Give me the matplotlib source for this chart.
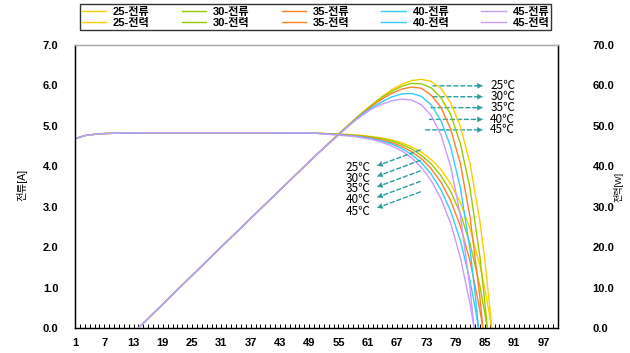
import matplotlib
matplotlib.use('Agg')
import matplotlib.pyplot as plt
from matplotlib.ticker import FixedLocator, FuncFormatter

plt.rcParams['font.family'] = ['Liberation Sans', 'Noto Sans CJK KR', 'DejaVu Sans']

temps = ['25', '30', '35', '40', '45']
colors = ['#FFCC00', '#99CC00', '#FF7F27', '#33CCFF', '#CC99FF']

# flat part, same for all temperatures
head_x = [1, 2, 3, 5, 7, 10, 15, 20, 30, 40, 50]
head_i = [4.68, 4.72, 4.76, 4.79, 4.81, 4.82, 4.83, 4.83, 4.83, 4.83, 4.82]
pow_head_x = [14, 20, 30, 40, 50]
pow_head = [0.0, 7.1, 18.9, 30.6, 42.3]

x_25 = [55, 58, 60, 62, 64, 66, 68, 70, 72, 74, 76, 78, 80, 82, 84, 85, 86, 86.4]
i_25 = [4.80, 4.78, 4.76, 4.73, 4.70, 4.65, 4.58, 4.48, 4.35, 4.17, 3.92, 3.57, 3.10, 2.44, 1.54, 0.97, 0.30, 0.0]
p_25 = [48.0, 51.3, 53.4, 55.4, 57.3, 59.0, 60.3, 61.2, 61.5, 61.0, 59.3, 55.7, 49.9, 40.5, 26.3, 16.8, 5.3, 0.0]

x_30 = [55, 58, 60, 62, 64, 66, 68, 70, 72, 74, 76, 78, 80, 82, 84, 85, 85.5]
i_30 = [4.79, 4.77, 4.75, 4.72, 4.68, 4.62, 4.54, 4.43, 4.27, 4.06, 3.77, 3.38, 2.83, 2.07, 1.03, 0.37, 0.0]
p_30 = [47.9, 51.2, 53.3, 55.3, 57.1, 58.6, 59.8, 60.5, 60.4, 59.4, 57.0, 52.8, 45.6, 34.3, 17.6, 6.4, 0.0]

x_35 = [55, 58, 60, 62, 64, 66, 68, 70, 72, 74, 76, 78, 80, 82, 84, 84.6]
i_35 = [4.79, 4.76, 4.74, 4.70, 4.65, 4.58, 4.49, 4.36, 4.19, 3.94, 3.61, 3.15, 2.52, 1.64, 0.44, 0.0]
p_35 = [47.9, 51.1, 53.2, 55.0, 56.7, 58.1, 59.1, 59.6, 59.3, 57.6, 54.6, 49.2, 40.6, 27.2, 7.5, 0.0]

x_40 = [55, 58, 60, 62, 64, 66, 68, 70, 72, 74, 76, 78, 80, 82, 83, 83.7]
i_40 = [4.78, 4.75, 4.72, 4.68, 4.62, 4.55, 4.44, 4.29, 4.09, 3.81, 3.42, 2.89, 2.16, 1.15, 0.51, 0.0]
p_40 = [47.8, 51.0, 53.0, 54.6, 56.0, 57.2, 57.9, 58.0, 57.3, 55.2, 51.3, 44.8, 34.6, 19.1, 8.6, 0.0]

x_45 = [55, 58, 60, 62, 64, 66, 68, 70, 72, 74, 76, 78, 80, 82, 82.8]
i_45 = [4.77, 4.74, 4.70, 4.66, 4.59, 4.50, 4.38, 4.21, 3.97, 3.65, 3.20, 2.59, 1.74, 0.58, 0.0]
p_45 = [47.7, 50.9, 52.7, 54.3, 55.4, 56.2, 56.6, 56.4, 55.2, 52.6, 47.8, 40.0, 27.8, 9.6, 0.0]

xs = [x_25, x_30, x_35, x_40, x_45]
cur = [i_25, i_30, i_35, i_40, i_45]
pw = [p_25, p_30, p_35, p_40, p_45]

fig = plt.figure(figsize=(6.3, 3.53), dpi=100)
ax = fig.add_axes([75/630, 1-328/353, 483/630, 283/353])
ax2 = ax.twinx()

cur_lines = []
for t, c, x, i in zip(temps, colors, xs, cur):
    h, = ax.plot(head_x + x, head_i + i, color=c, lw=1.0, label=t + '-전류')
    cur_lines.append(h)
pow_lines = []
for t, c, x, p in zip(temps, colors, xs, pw):
    h, = ax2.plot(pow_head_x + x, pow_head + p, color=c, lw=1.0, label=t + '-전력')
    pow_lines.append(h)

# legend fills column by column: current on top row, power below
handles = []
for hc, hp in zip(cur_lines, pow_lines):
    handles += [hc, hp]

ax.set_xlim(1, 100)
ax.set_ylim(0, 7)
ax2.set_ylim(0, 70)

ax.xaxis.set_major_locator(FixedLocator(range(1, 101)))
ax.xaxis.set_major_formatter(FuncFormatter(lambda v, p: '%d' % v if (int(v) - 1) % 6 == 0 else ''))
ax.tick_params(axis='x', direction='in', length=3, width=0.7, pad=7, labelsize=8)
ax.set_yticks(range(0, 8))
ax.yaxis.set_major_formatter(FuncFormatter(lambda v, p: '%.1f' % v))
ax.tick_params(axis='y', length=0, pad=12, labelsize=8)
ax2.set_yticks(range(0, 80, 10))
ax2.yaxis.set_major_formatter(FuncFormatter(lambda v, p: '%.1f' % v))
ax2.tick_params(axis='y', length=0, pad=25, labelsize=8)
for a in (ax, ax2):
    a.tick_params(top=False)
    for lab in a.get_xticklabels() + a.get_yticklabels():
        lab.set_fontweight('bold')

for a in (ax, ax2):
    for s in ('left', 'right', 'bottom'):
        a.spines[s].set_color('black')
        a.spines[s].set_linewidth(0.9)
    a.spines['top'].set_color('#AAAAAA')
    a.spines['top'].set_linewidth(0.9)

fig.text(22/630, 1-185/353, '전류[A]', rotation=90, ha='center', va='center', fontsize=7.5)
fig.text(618/630, 1-187/353, '전력[W]', rotation=90, ha='center', va='center', fontsize=6.5)

# temperature callouts
teal = '#2A9D9D'
lab_font = dict(fontsize=8.5, family=['Noto Sans CJK KR', 'DejaVu Sans'])
r_tail_x = [73.8, 73.8, 73.4, 73.1, 72.3]
r_y = [5.99, 5.72, 5.45, 5.16, 4.90]
for t, tx, y in zip(temps, r_tail_x, r_y):
    ax.annotate('', xy=(84.6, y), xytext=(tx, y),
                arrowprops=dict(arrowstyle='-', ls=(0, (3, 2)), color=teal, lw=1.0))
    ax.annotate('', xy=(84.6, y), xytext=(84.0, y),
                arrowprops=dict(arrowstyle='-|>', color=teal, lw=0.3, mutation_scale=9))
    ax.text(86.1, y, t + '℃', ha='left', va='center', **lab_font)

l_head_y = [4.01, 3.75, 3.49, 3.23, 2.97]
l_tail_y = [4.43, 4.17, 3.91, 3.65, 3.39]
l_lab_y = [3.96, 3.70, 3.44, 3.17, 2.89]
for t, hy, ty, ly in zip(temps, l_head_y, l_tail_y, l_lab_y):
    ax.annotate('', xy=(62.9, hy), xytext=(72.3, ty),
                arrowprops=dict(arrowstyle='-', ls=(0, (3, 2)), color=teal, lw=1.0))
    ax.annotate('', xy=(62.9, hy), xytext=(63.5, hy + 0.027),
                arrowprops=dict(arrowstyle='-|>', color=teal, lw=0.3, mutation_scale=9))
    ax.text(61.5, ly, t + '℃', ha='right', va='center', **lab_font)

leg = fig.legend(handles=handles, ncol=5, loc='lower left',
                 bbox_to_anchor=(74/630, 1-36/353, 483/630, 32/353), mode='expand',
                 frameon=True, fancybox=False, edgecolor='black',
                 handlelength=2.2, handletextpad=0.6, borderpad=0.2, labelspacing=0.15,
                 columnspacing=1.0, prop=dict(weight='bold', size=8))
leg.get_frame().set_linewidth(1.0)

fig.savefig('out.png', dpi=100)
